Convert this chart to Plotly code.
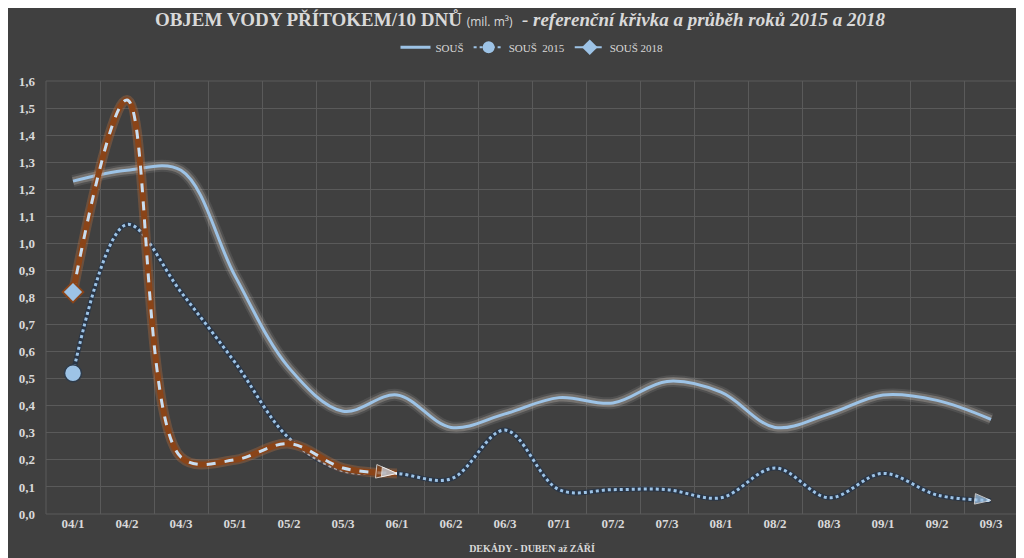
import plotly.graph_objects as go

# dekády duben - září
decades = ['04/1', '04/2', '04/3', '05/1', '05/2', '05/3', '06/1', '06/2', '06/3',
           '07/1', '07/2', '07/3', '08/1', '08/2', '08/3', '09/1', '09/2', '09/3']

sous_ref = [1.23, 1.27, 1.27, 0.88, 0.54, 0.38, 0.44, 0.32, 0.37,
            0.43, 0.41, 0.49, 0.45, 0.32, 0.37, 0.44, 0.42, 0.35]
sous_2015 = [0.52, 1.07, 0.82, 0.56, 0.28, 0.16, 0.15, 0.13, 0.31,
             0.09, 0.09, 0.09, 0.06, 0.17, 0.06, 0.15, 0.07, 0.05]
sous_2018 = [0.82, 1.53, 0.21, 0.20, 0.26, 0.17, 0.15]

BG = '#404040'
TXT = '#D9D9D9'
BLUE = '#9DC3E6'
LIGHT = '#C9DDF0'
BROWN = '#8A4418'
FONT = 'Liberation Serif'
SPL = dict(shape='spline', smoothing=1.0)


def line_trace(x, y, color, width, dash='solid'):
    return go.Scatter(x=x, y=y, mode='lines', showlegend=False, hoverinfo='skip',
                      line=dict(color=color, width=width, dash=dash, **SPL))


def point(x, y, symbol, size, color, outline=None, ow=0):
    return go.Scatter(x=[x], y=[y], mode='markers', showlegend=False, hoverinfo='skip',
                      marker=dict(symbol=symbol, size=size, color=color,
                                  line=dict(color=outline or color, width=ow)))


def arrow(x, y, size, color):
    # last two points, arrow turned along the last segment
    return go.Scatter(x=x[-2:], y=y[-2:], mode='markers', showlegend=False, hoverinfo='skip',
                      marker=dict(symbol=['circle', 'arrow'], size=[0, size], color=color,
                                  angleref='previous'))


fig = go.Figure()

# SOUŠ - reference curve with glow
fig.add_trace(line_trace(decades, sous_ref, 'rgba(200,200,200,0.12)', 12))
fig.add_trace(line_trace(decades, sous_ref, 'rgba(215,205,195,0.28)', 8))
fig.add_trace(line_trace(decades, sous_ref, BLUE, 3))

# 2015 - dotted
fig.add_trace(line_trace(decades, sous_2015, 'rgba(38,52,70,0.85)', 5))
fig.add_trace(line_trace(decades, sous_2015, BLUE, 3, 'dot'))
fig.add_trace(point(decades[0], sous_2015[0], 'circle', 17, BLUE, '#2E3B4A', 1.5))
fig.add_trace(arrow(decades, sous_2015, 17, BLUE))

# 2018 - dashed with brown outline
x18 = decades[:len(sous_2018)]
fig.add_trace(line_trace(x18, sous_2018, 'rgba(210,120,60,0.3)', 10))
fig.add_trace(line_trace(x18, sous_2018, BROWN, 6))
fig.add_trace(line_trace(x18, sous_2018, LIGHT, 3, 'dash'))
fig.add_trace(point(x18[0], sous_2018[0], 'diamond', 18, BROWN))
fig.add_trace(point(x18[0], sous_2018[0], 'diamond', 14, BLUE))
fig.add_trace(arrow(x18, sous_2018, 22, BROWN))
fig.add_trace(arrow(x18, sous_2018, 16, LIGHT))

# legend entries
fig.add_scatter(x=[None], y=[None], mode='lines', name='SOUŠ',
                line=dict(color=BLUE, width=3))
fig.add_scatter(x=[None], y=[None], mode='lines+markers', name='SOUŠ  2015',
                line=dict(color=BLUE, width=2, dash='dot'),
                marker=dict(symbol='circle', size=12, color=BLUE))
fig.add_scatter(x=[None], y=[None], mode='lines+markers', name='SOUŠ 2018',
                line=dict(color=BLUE, width=2, dash='dash'),
                marker=dict(symbol='diamond', size=12, color=BLUE))

title = ('<b>OBJEM VODY PŘÍTOKEM/10 DNŮ</b> '
         '<span style="font-size:12px;font-family:\'Open Sans\'">(mil. m³)</span>'
         '  <b><i>- referenční křivka a průběh roků 2015 a 2018</i></b>')

fig.update_layout(
    width=1024, height=558,
    paper_bgcolor=BG, plot_bgcolor=BG,
    margin=dict(l=38, r=14, t=73, b=52),
    separators=', ',
    font=dict(family=FONT, color=TXT, size=12),
    title=dict(text=title, x=0.5, xanchor='center', y=0.98, yanchor='middle',
               font=dict(family=FONT, size=19, color=TXT)),
    legend=dict(orientation='h', x=0.5, xanchor='center', y=1.078, yanchor='middle',
                font=dict(family=FONT, size=11, color=TXT), bgcolor='rgba(0,0,0,0)',
                itemwidth=30, tracegroupgap=0),
    showlegend=True,
)
fig.update_xaxes(type='category', range=[-0.5, 17.5], tickson='boundaries', ticks='',
                 showgrid=True, gridcolor='#5A5A5A', gridwidth=1, showline=False, zeroline=False,
                 tickfont=dict(family=FONT, size=13, color=TXT, weight='bold'),
                 title=dict(text='<b>DEKÁDY - DUBEN až ZÁŘÍ</b>', standoff=14,
                            font=dict(family=FONT, size=10, color=TXT)))
fig.update_yaxes(range=[0, 1.6], dtick=0.1, tickformat='.1f', showgrid=True,
                 gridcolor='#5A5A5A', gridwidth=1, zeroline=False, showline=False,
                 tickfont=dict(family=FONT, size=13, color=TXT, weight='bold'),
                 ticklabelstandoff=10)

fig.add_shape(type='rect', xref='paper', yref='paper', x0=0, x1=1, y0=0, y1=1,
              line=dict(color='#5A5A5A', width=1))

fig.write_html('out.html')
